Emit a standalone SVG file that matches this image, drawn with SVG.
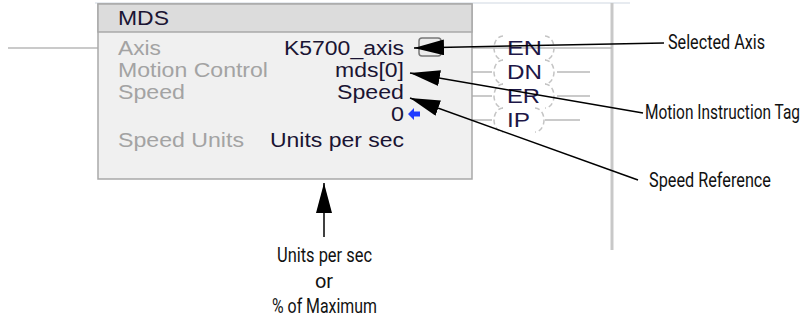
<svg xmlns="http://www.w3.org/2000/svg" width="810" height="320" viewBox="0 0 810 320">
<defs>
<style>
.rail{stroke:#c8c8c8;stroke-width:3;fill:none}
.rung{stroke:#b8b8b8;stroke-width:1.5;fill:none}
.lbl{font-family:"Liberation Sans",Arial,sans-serif;font-size:20.5px;fill:#a3a3a3}
.val{font-family:"Liberation Sans",Arial,sans-serif;font-size:20.5px;fill:#1a1433}
.coil{font-family:"Liberation Sans",Arial,sans-serif;font-size:21px;fill:#1d1747}
.par{stroke:#c4c4c4;stroke-width:1.5;fill:none;stroke-dasharray:5 3}
.note{font-family:Roboto,"Liberation Sans",sans-serif;font-size:20px;fill:#111}
.ptr{stroke:#000;stroke-width:1.5;fill:none}
</style>
<marker id="ah" viewBox="0 0 30 16" refX="30" refY="8" markerWidth="30" markerHeight="16" markerUnits="userSpaceOnUse" orient="auto">
<path d="M0,0 L30,8 L0,16 z" fill="#000"/>
</marker>
</defs>
<rect width="810" height="320" fill="#fff"/>
<g id="rails">
<line x1="95" y1="3" x2="630" y2="3" stroke="#dfe5eb" stroke-width="1.5"/>
<line x1="612" y1="3" x2="612" y2="250" class="rail"/>
<line x1="8" y1="48" x2="98" y2="48" class="rung"/>
<line x1="472" y1="48" x2="612" y2="48" class="rung"/>
<line x1="472" y1="72" x2="492" y2="72" class="rung"/>
<line x1="557" y1="72" x2="590" y2="72" class="rung"/>
<line x1="472" y1="96" x2="492" y2="96" class="rung"/>
<line x1="557" y1="96" x2="590" y2="96" class="rung"/>
<line x1="472" y1="120" x2="492" y2="120" class="rung"/>
<line x1="545" y1="120" x2="580" y2="120" class="rung"/>
</g>
<g id="mds-block">
<rect x="98" y="4" width="374" height="175" fill="#f0f0f0" stroke="#a9a9a9" stroke-width="1.5"/>
<rect x="98" y="4" width="374" height="28" fill="#dcdcdc" stroke="#a9a9a9" stroke-width="1.5"/>
<text x="118" y="25" class="val" textLength="51" lengthAdjust="spacingAndGlyphs">MDS</text>
<text x="118" y="55" class="lbl" textLength="43" lengthAdjust="spacingAndGlyphs">Axis</text>
<text x="118" y="77" class="lbl" textLength="150" lengthAdjust="spacingAndGlyphs">Motion Control</text>
<text x="118" y="99" class="lbl" textLength="67" lengthAdjust="spacingAndGlyphs">Speed</text>
<text x="118" y="147" class="lbl" textLength="126" lengthAdjust="spacingAndGlyphs">Speed Units</text>
<text x="284" y="55" class="val" textLength="120" lengthAdjust="spacingAndGlyphs">K5700_axis</text>
<text x="335" y="77" class="val" textLength="69" lengthAdjust="spacingAndGlyphs">mds[0]</text>
<text x="337" y="99" class="val" textLength="67" lengthAdjust="spacingAndGlyphs">Speed</text>
<text x="391" y="121" class="val" textLength="13" lengthAdjust="spacingAndGlyphs">0</text>
<text x="270" y="147" class="val" textLength="134" lengthAdjust="spacingAndGlyphs">Units per sec</text>
<rect x="419" y="38" width="22" height="18" rx="3" fill="#ececec" stroke="#777" stroke-width="1.5"/>
<path d="M408,114 L414,108 L414,111.5 L420,111.5 L420,116.5 L414,116.5 L414,120 z" fill="#1f3cff"/>
</g>
<g id="coils">
<path d="M503,36 A9,12 0 0 0 503,60" class="par"/><path d="M545,36 A9,12 0 0 1 545,60" class="par"/>
<text x="507" y="55" class="coil" textLength="35" lengthAdjust="spacingAndGlyphs">EN</text>
<path d="M503,60 A9,12 0 0 0 503,84" class="par"/><path d="M545,60 A9,12 0 0 1 545,84" class="par"/>
<text x="507" y="79" class="coil" textLength="35" lengthAdjust="spacingAndGlyphs">DN</text>
<path d="M503,84 A9,12 0 0 0 503,108" class="par"/><path d="M545,84 A9,12 0 0 1 545,108" class="par"/>
<text x="507" y="103" class="coil" textLength="33" lengthAdjust="spacingAndGlyphs">ER</text>
<path d="M503,108 A9,12 0 0 0 503,132" class="par"/><path d="M535,108 A9,12 0 0 1 535,132" class="par"/>
<text x="507" y="127" class="coil" textLength="23" lengthAdjust="spacingAndGlyphs">IP</text>
</g>
<g id="connectors">
<line x1="664" y1="43" x2="414" y2="48" class="ptr" marker-end="url(#ah)"/>
<line x1="643" y1="113" x2="410" y2="73" class="ptr" marker-end="url(#ah)"/>
<line x1="638" y1="180" x2="410" y2="98" class="ptr" marker-end="url(#ah)"/>
<line x1="324" y1="237" x2="324" y2="183" class="ptr" stroke-width="2.5" marker-end="url(#ah)"/>
</g>
<g id="labels">
<text x="668" y="49" class="note" textLength="97" lengthAdjust="spacingAndGlyphs">Selected Axis</text>
<text x="645" y="119" class="note" textLength="155" lengthAdjust="spacingAndGlyphs">Motion Instruction Tag</text>
<text x="649" y="187" class="note" textLength="122" lengthAdjust="spacingAndGlyphs">Speed Reference</text>
<text x="277" y="262" class="note" textLength="95" lengthAdjust="spacingAndGlyphs">Units per sec</text>
<text x="324" y="288" class="note" text-anchor="middle">or</text>
<text x="272" y="313" class="note" textLength="105" lengthAdjust="spacingAndGlyphs">% of Maximum</text>
</g>
</svg>
